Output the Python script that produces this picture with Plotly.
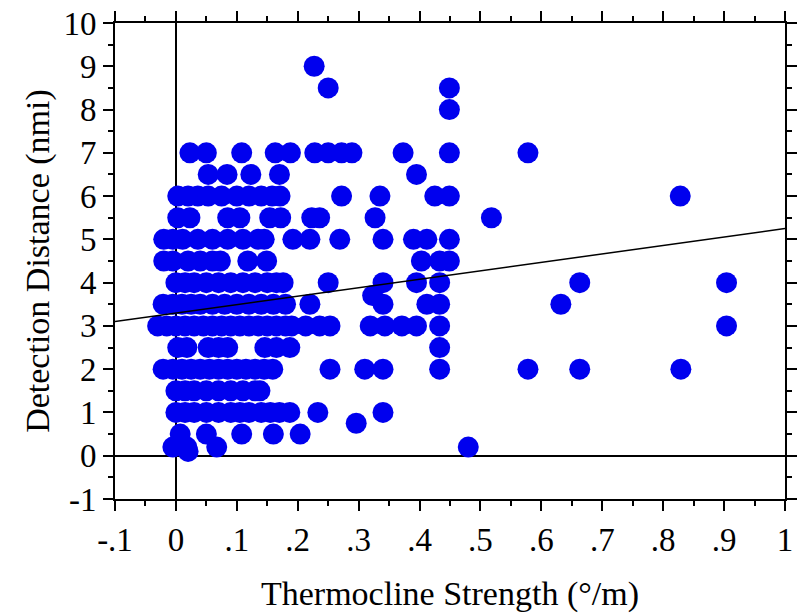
import plotly.graph_objects as go

# Detection distance (nmi) rows and thermocline strength (deg/m) values
rows = {
    9.0: [0.227],
    8.5: [0.25, 0.449],
    8.0: [0.449],
    7.0: [0.023, 0.050, 0.108, 0.163, 0.188, 0.228, 0.250, 0.272, 0.289, 0.373, 0.449, 0.578],
    6.5: [0.053, 0.084, 0.123, 0.170, 0.395],
    6.0: [0.003, 0.020, 0.036, 0.053, 0.075, 0.100, 0.120, 0.140, 0.158, 0.171, 0.272, 0.335, 0.425, 0.449, 0.828],
    5.5: [0.003, 0.023, 0.085, 0.105, 0.154, 0.172, 0.223, 0.236, 0.327, 0.518],
    5.0: [-0.020, -0.005, 0.011, 0.036, 0.060, 0.085, 0.110, 0.135, 0.145, 0.192, 0.220, 0.269, 0.340, 0.390, 0.412, 0.449],
    4.5: [-0.020, -0.005, 0.020, 0.040, 0.060, 0.073, 0.118, 0.149, 0.403, 0.433, 0.449],
    4.0: [0.000, 0.015, 0.030, 0.050, 0.070, 0.090, 0.110, 0.130, 0.150, 0.165, 0.176, 0.250, 0.340, 0.395, 0.433, 0.663, 0.904],
    3.7: [0.323],
    3.5: [-0.021, -0.005, 0.010, 0.025, 0.040, 0.060, 0.080, 0.100, 0.120, 0.140, 0.160, 0.180, 0.220, 0.340, 0.412, 0.433, 0.632],
    3.0: [-0.030, -0.015, 0.000, 0.015, 0.030, 0.045, 0.060, 0.075, 0.090, 0.105, 0.120, 0.135, 0.150, 0.165, 0.180, 0.190,
          0.213, 0.236, 0.253, 0.319, 0.343, 0.371, 0.395, 0.433, 0.904],
    2.5: [0.003, 0.018, 0.053, 0.070, 0.085, 0.146, 0.165, 0.187, 0.433],
    2.0: [-0.021, -0.005, 0.010, 0.025, 0.040, 0.055, 0.070, 0.085, 0.100, 0.115, 0.130, 0.145, 0.159,
          0.253, 0.310, 0.340, 0.433, 0.578, 0.663, 0.829],
    1.5: [0.000, 0.015, 0.030, 0.050, 0.070, 0.090, 0.110, 0.130, 0.138],
    1.0: [0.000, 0.015, 0.030, 0.050, 0.070, 0.090, 0.105, 0.120, 0.140, 0.155, 0.170, 0.187, 0.233, 0.340],
    0.75: [0.296],
    0.5: [0.007, 0.050, 0.108, 0.160, 0.204],
    0.2: [-0.005, 0.018, 0.067, 0.480],
    0.1: [0.020],
}

strength = []
distance = []
for yv, xs in rows.items():
    for xv in xs:
        strength.append(xv)
        distance.append(yv)

fit_x = [-0.1, 1.0]
fit_y = [3.1, 5.25]

x_ticks = [-0.1, 0.0, 0.1, 0.2, 0.3, 0.4, 0.5, 0.6, 0.7, 0.8, 0.9, 1.0]
x_labels = ["-.1", "0", ".1", ".2", ".3", ".4", ".5", ".6", ".7", ".8", ".9", "1"]
y_ticks = list(range(-1, 11))
y_labels = [str(v) for v in y_ticks]

FONT = "Liberation Serif"

fig = go.Figure()
fig.add_trace(go.Scatter(
    x=strength, y=distance, mode="markers",
    marker=dict(size=21, color="#0000EE", line=dict(width=0)),
    showlegend=False, hoverinfo="x+y"))
fig.add_trace(go.Scatter(
    x=fit_x, y=fit_y, mode="lines",
    line=dict(color="black", width=1.5), showlegend=False))

axis_common = dict(
    showgrid=False, showline=True, linecolor="black", linewidth=2,
    zeroline=True, zerolinecolor="black", zerolinewidth=2,
    ticks="outside", ticklen=10, tickwidth=2, tickcolor="black",
    mirror="ticks",
    tickfont=dict(family=FONT, size=33, color="black"),
)

fig.update_xaxes(
    range=[-0.1, 1.0], tickvals=x_ticks, ticktext=x_labels,
    minor=dict(dtick=0.05, tick0=0, ticks="outside", ticklen=5, tickwidth=2, tickcolor="black"),
    title=dict(text="Thermocline Strength (°/m)", font=dict(family=FONT, size=34, color="black"), standoff=26),
    **axis_common)
fig.update_yaxes(
    range=[-1, 10], tickvals=y_ticks, ticktext=y_labels,
    minor=dict(dtick=0.5, tick0=0, ticks="outside", ticklen=5, tickwidth=2, tickcolor="black"),
    title=dict(text="Detection Distance (nmi)", font=dict(family=FONT, size=34, color="black"), standoff=4),
    **axis_common)

fig.update_layout(
    width=798, height=613,
    margin=dict(l=115, r=13, t=23, b=114, autoexpand=False),
    paper_bgcolor="white", plot_bgcolor="white",
    font=dict(family=FONT, color="black"),
)

fig.write_html("out.html")
